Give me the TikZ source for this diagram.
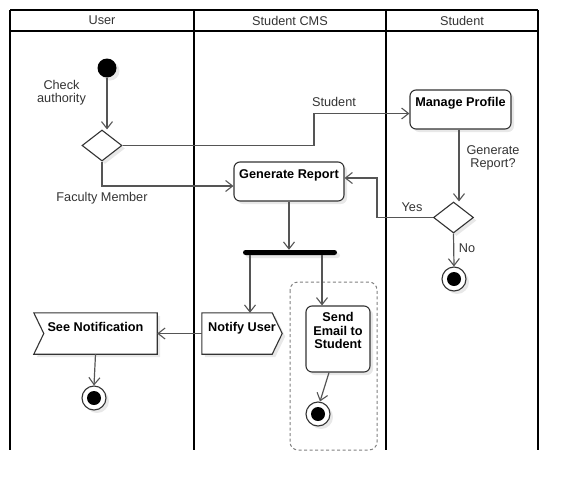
\documentclass[tikz,border=0pt]{standalone}
\usepackage{fontspec}
\setmainfont{Liberation Sans}
\usetikzlibrary{arrows.meta,shapes.geometric,shadows}
\definecolor{conncol}{HTML}{555555}
\definecolor{edgecol}{HTML}{333333}
\definecolor{txtcol}{HTML}{333333}
\definecolor{shcol}{HTML}{E8E8E8}
\newcommand\fsz{\fontsize{12.7}{13.2}\selectfont}
\begin{document}
\begin{tikzpicture}[x=1pt,y=-1pt,
  lane/.style={line width=1.8pt, draw=black},
  conn/.style={draw=conncol, line width=1.2pt, -{Straight Barb[length=7pt,width=11pt,line width=1.1pt]}},
  sh/.style={drop shadow={shadow xshift=3pt,shadow yshift=-3pt,fill=shcol,opacity=1}},
  act/.style={draw=edgecol, line width=1.1pt, rounded corners=6pt, fill=white, sh, inner sep=0pt},
  actlbl/.style={anchor=north, font=\bfseries\fsz, text=black, align=center, inner sep=3pt},
  lbl/.style={font=\fsz, text=txtcol, inner sep=0pt, align=center},
  evbox/.style={inner sep=0pt},
  evshape/.style={draw=edgecol, line width=1.1pt, fill=white},
  evshadow/.style={fill=shcol, transform canvas={xshift=3pt,yshift=-3pt}},
  dec/.style={diamond, draw=edgecol, line width=1.1pt, fill=white, sh, minimum width=40pt, minimum height=31pt, inner sep=0pt},
  start/.style={circle, fill=black, sh, minimum size=19pt, inner sep=0pt},
  fin/.style={circle, draw=edgecol, line width=1.1pt, fill=white, sh, minimum size=24pt, inner sep=0pt,
    path picture={\fill[black] (path picture bounding box.center) circle (7pt);}},
]
\useasboundingbox (0,0) rectangle (578,490);
% swimlanes
\draw[lane] (10,10) -- (538,10);
\draw[lane] (10,31) -- (538,31);
\draw[lane] (10,10) -- (10,450);
\draw[lane] (194,10) -- (194,450);
\draw[lane] (386,10) -- (386,450);
\draw[lane] (538,10) -- (538,450);
\node[lbl] (h1) at (102,20.5) {User};
\node[lbl] (h2) at (290,20.5) {Student CMS};
\node[lbl] (h3) at (462,20.5) {Student};

% group region
\draw[draw=gray, line width=1pt, dash pattern=on 3pt off 2.5pt, rounded corners=8pt] (290,282) rectangle (377,450);

% nodes
\node[start] (init) at (107,68) {};
\node[dec] (d1) at (102,145.5) {};
\node[act, minimum width=101pt, minimum height=39pt] (mp) at (460.5,109.5) {};
\node[actlbl] (mpt) at ([yshift=-5pt]mp.north) {Manage Profile};
\node[act, minimum width=110pt, minimum height=39pt] (gr) at (289,181.5) {};
\node[actlbl] (grt) at ([yshift=-5pt]gr.north) {Generate Report};
\node[dec] (d2) at (453.5,217.5) {};
\node[fin] (f2) at (454,279) {};
\node[fill=black, minimum width=94pt, minimum height=5pt, inner sep=0pt, rounded corners=2.5pt, sh] (fork) at (290,252.5) {};

\node[evbox, minimum width=80pt, minimum height=41pt] (nu) at (242,333.5) {};
\fill[evshadow] (nu.north west) -- ([xshift=-10pt]nu.north east) -- (nu.east) -- ([xshift=-10pt]nu.south east) -- (nu.south west) -- cycle;
\draw[evshape] (nu.north west) -- ([xshift=-10pt]nu.north east) -- (nu.east) -- ([xshift=-10pt]nu.south east) -- (nu.south west) -- cycle;
\node[actlbl] (nut) at ([yshift=-6pt]nu.north) {Notify User};

\node[evbox, minimum width=123pt, minimum height=41pt] (sn) at (95.5,333.5) {};
\fill[evshadow] (sn.north west) -- (sn.north east) -- (sn.south east) -- (sn.south west) -- ([xshift=10pt]sn.west) -- cycle;
\draw[evshape] (sn.north west) -- (sn.north east) -- (sn.south east) -- (sn.south west) -- ([xshift=10pt]sn.west) -- cycle;
\node[actlbl] (snt) at ([yshift=-6pt]sn.north) {See Notification};

\node[act, minimum width=64pt, minimum height=66pt] (se) at (338,339) {};
\node[actlbl] (set) at ([yshift=-4pt]se.north) {Send\\Email to\\Student};

\node[fin] (f1) at (94,398) {};
\node[fin] (f3) at (318,414) {};

% connectors
\draw[conn] (init.south) -- (init.south |- d1.north);
\draw[conn] (d1.east) -- (314,145.5) -- (314,113.5) -- ([yshift=-4pt]mp.west);
\node[lbl] (lstud) at (334,102) {Student};
\draw[conn] (d1.south) |- ([yshift=-4.5pt]gr.west);
\node[lbl] (lfac) at (102,198.5) {Faculty Member};
\draw[conn] ([xshift=-1.5pt]mp.south) -- ([xshift=-1.5pt]mp.south |- d2.north);
\node[lbl] (lgen) at (493,157.5) {Generate\\Report?};
\draw[conn] (d2.west) -- (377,217.5) |- ([yshift=3.5pt]gr.east);
\node[lbl] (lyes) at (412,207) {Yes};
\draw[conn] (d2.south) -- (f2.north);
\node[lbl] (lno) at (467,248) {No};
\draw[conn] (gr.south) -- (gr.south |- fork.north);
\draw[conn] ([xshift=-40pt]fork.south) -- ([xshift=-40pt]fork.south |- nu.north);
\draw[conn] ([xshift=32pt]fork.south) -- ([xshift=32pt]fork.south |- se.north);
\draw[conn] (nu.west) -- (sn.east);
\draw[conn] (sn.south) -- (f1.north);
\draw[conn] ([xshift=-9pt]se.south) -- ([xshift=2pt]f3.north);
\node[lbl] (lchk) at (61.5,93) {Check\\authority};
\end{tikzpicture}
\end{document}
